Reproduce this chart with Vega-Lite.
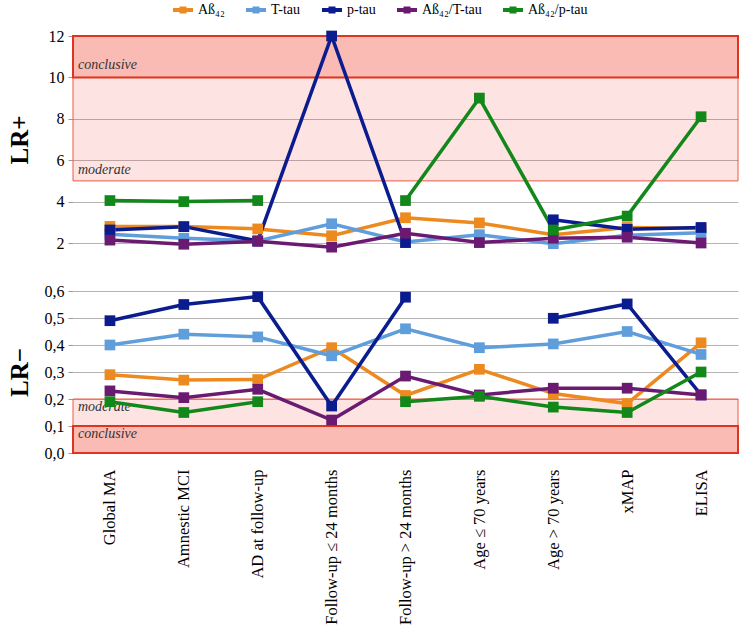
{
  "$schema": "https://vega.github.io/schema/vega-lite/v6.json",
  "padding": {"left": 7, "top": 0, "right": 5, "bottom": 0},
  "background": "white",
  "config": {
    "view": {"stroke": null},
    "font": "Liberation Serif",
    "axis": {"labelFont": "Liberation Serif", "titleFont": "Liberation Serif", "labelColor": "#000", "titleColor": "#000", "gridColor": "#b4b4b4", "domain": false, "tickColor": "#999"},
    "legend": {"labelFont": "Liberation Serif"}
  },
  "datasets": {
    "plus": [
      {"cat": "Global MA", "s": "Aß₄₂", "v": 2.8},
      {"cat": "Amnestic MCI", "s": "Aß₄₂", "v": 2.8},
      {"cat": "AD at follow-up", "s": "Aß₄₂", "v": 2.68},
      {"cat": "Follow-up ≤ 24 months", "s": "Aß₄₂", "v": 2.35},
      {"cat": "Follow-up > 24 months", "s": "Aß₄₂", "v": 3.22},
      {"cat": "Age ≤ 70 years", "s": "Aß₄₂", "v": 2.97},
      {"cat": "Age > 70 years", "s": "Aß₄₂", "v": 2.4},
      {"cat": "xMAP", "s": "Aß₄₂", "v": 2.75},
      {"cat": "ELISA", "s": "Aß₄₂", "v": 2.7},
      {"cat": "Global MA", "s": "T-tau", "v": 2.42},
      {"cat": "Amnestic MCI", "s": "T-tau", "v": 2.23},
      {"cat": "AD at follow-up", "s": "T-tau", "v": 2.1},
      {"cat": "Follow-up ≤ 24 months", "s": "T-tau", "v": 2.93},
      {"cat": "Follow-up > 24 months", "s": "T-tau", "v": 2.05},
      {"cat": "Age ≤ 70 years", "s": "T-tau", "v": 2.4},
      {"cat": "Age > 70 years", "s": "T-tau", "v": 1.97},
      {"cat": "xMAP", "s": "T-tau", "v": 2.38},
      {"cat": "ELISA", "s": "T-tau", "v": 2.5},
      {"cat": "Global MA", "s": "p-tau", "v": 2.63},
      {"cat": "Amnestic MCI", "s": "p-tau", "v": 2.79},
      {"cat": "AD at follow-up", "s": "p-tau", "v": 2.1},
      {"cat": "Follow-up ≤ 24 months", "s": "p-tau", "v": 12},
      {"cat": "Follow-up > 24 months", "s": "p-tau", "v": 2.02},
      {"cat": "Age ≤ 70 years", "s": "p-tau", "v": null},
      {"cat": "Age > 70 years", "s": "p-tau", "v": 3.12},
      {"cat": "xMAP", "s": "p-tau", "v": 2.66},
      {"cat": "ELISA", "s": "p-tau", "v": 2.75},
      {"cat": "Global MA", "s": "Aß₄₂/T-tau", "v": 2.14},
      {"cat": "Amnestic MCI", "s": "Aß₄₂/T-tau", "v": 1.94},
      {"cat": "AD at follow-up", "s": "Aß₄₂/T-tau", "v": 2.08},
      {"cat": "Follow-up ≤ 24 months", "s": "Aß₄₂/T-tau", "v": 1.8},
      {"cat": "Follow-up > 24 months", "s": "Aß₄₂/T-tau", "v": 2.47},
      {"cat": "Age ≤ 70 years", "s": "Aß₄₂/T-tau", "v": 2.02},
      {"cat": "Age > 70 years", "s": "Aß₄₂/T-tau", "v": 2.23},
      {"cat": "xMAP", "s": "Aß₄₂/T-tau", "v": 2.28},
      {"cat": "ELISA", "s": "Aß₄₂/T-tau", "v": 2.0},
      {"cat": "Global MA", "s": "Aß₄₂/p-tau", "v": 4.05},
      {"cat": "Amnestic MCI", "s": "Aß₄₂/p-tau", "v": 4.0},
      {"cat": "AD at follow-up", "s": "Aß₄₂/p-tau", "v": 4.05},
      {"cat": "Follow-up ≤ 24 months", "s": "Aß₄₂/p-tau", "v": null},
      {"cat": "Follow-up > 24 months", "s": "Aß₄₂/p-tau", "v": 4.05},
      {"cat": "Age ≤ 70 years", "s": "Aß₄₂/p-tau", "v": 9.0},
      {"cat": "Age > 70 years", "s": "Aß₄₂/p-tau", "v": 2.63},
      {"cat": "xMAP", "s": "Aß₄₂/p-tau", "v": 3.3},
      {"cat": "ELISA", "s": "Aß₄₂/p-tau", "v": 8.1}
    ],
    "minus": [
      {"cat": "Global MA", "s": "Aß₄₂", "v": 0.29},
      {"cat": "Amnestic MCI", "s": "Aß₄₂", "v": 0.27},
      {"cat": "AD at follow-up", "s": "Aß₄₂", "v": 0.272},
      {"cat": "Follow-up ≤ 24 months", "s": "Aß₄₂", "v": 0.39},
      {"cat": "Follow-up > 24 months", "s": "Aß₄₂", "v": 0.213},
      {"cat": "Age ≤ 70 years", "s": "Aß₄₂", "v": 0.31},
      {"cat": "Age > 70 years", "s": "Aß₄₂", "v": 0.22},
      {"cat": "xMAP", "s": "Aß₄₂", "v": 0.183},
      {"cat": "ELISA", "s": "Aß₄₂", "v": 0.408},
      {"cat": "Global MA", "s": "T-tau", "v": 0.4},
      {"cat": "Amnestic MCI", "s": "T-tau", "v": 0.44},
      {"cat": "AD at follow-up", "s": "T-tau", "v": 0.43},
      {"cat": "Follow-up ≤ 24 months", "s": "T-tau", "v": 0.36},
      {"cat": "Follow-up > 24 months", "s": "T-tau", "v": 0.46},
      {"cat": "Age ≤ 70 years", "s": "T-tau", "v": 0.39},
      {"cat": "Age > 70 years", "s": "T-tau", "v": 0.404},
      {"cat": "xMAP", "s": "T-tau", "v": 0.45},
      {"cat": "ELISA", "s": "T-tau", "v": 0.365},
      {"cat": "Global MA", "s": "p-tau", "v": 0.49},
      {"cat": "Amnestic MCI", "s": "p-tau", "v": 0.55},
      {"cat": "AD at follow-up", "s": "p-tau", "v": 0.579},
      {"cat": "Follow-up ≤ 24 months", "s": "p-tau", "v": 0.174},
      {"cat": "Follow-up > 24 months", "s": "p-tau", "v": 0.577},
      {"cat": "Age ≤ 70 years", "s": "p-tau", "v": null},
      {"cat": "Age > 70 years", "s": "p-tau", "v": 0.499},
      {"cat": "xMAP", "s": "p-tau", "v": 0.552},
      {"cat": "ELISA", "s": "p-tau", "v": 0.215},
      {"cat": "Global MA", "s": "Aß₄₂/T-tau", "v": 0.23},
      {"cat": "Amnestic MCI", "s": "Aß₄₂/T-tau", "v": 0.205},
      {"cat": "AD at follow-up", "s": "Aß₄₂/T-tau", "v": 0.236},
      {"cat": "Follow-up ≤ 24 months", "s": "Aß₄₂/T-tau", "v": 0.122},
      {"cat": "Follow-up > 24 months", "s": "Aß₄₂/T-tau", "v": 0.285},
      {"cat": "Age ≤ 70 years", "s": "Aß₄₂/T-tau", "v": 0.215},
      {"cat": "Age > 70 years", "s": "Aß₄₂/T-tau", "v": 0.24},
      {"cat": "xMAP", "s": "Aß₄₂/T-tau", "v": 0.24},
      {"cat": "ELISA", "s": "Aß₄₂/T-tau", "v": 0.215},
      {"cat": "Global MA", "s": "Aß₄₂/p-tau", "v": 0.19},
      {"cat": "Amnestic MCI", "s": "Aß₄₂/p-tau", "v": 0.15},
      {"cat": "AD at follow-up", "s": "Aß₄₂/p-tau", "v": 0.19},
      {"cat": "Follow-up ≤ 24 months", "s": "Aß₄₂/p-tau", "v": null},
      {"cat": "Follow-up > 24 months", "s": "Aß₄₂/p-tau", "v": 0.19},
      {"cat": "Age ≤ 70 years", "s": "Aß₄₂/p-tau", "v": 0.21},
      {"cat": "Age > 70 years", "s": "Aß₄₂/p-tau", "v": 0.17},
      {"cat": "xMAP", "s": "Aß₄₂/p-tau", "v": 0.15},
      {"cat": "ELISA", "s": "Aß₄₂/p-tau", "v": 0.3}
    ],
    "bandsPlus": [
      {"kind": "moderate", "lo": 5, "hi": 10, "ly": 5.55},
      {"kind": "conclusive", "lo": 10, "hi": 12, "ly": 10.6}
    ],
    "bandsMinus": [
      {"kind": "moderate", "lo": 0.1, "hi": 0.2, "ly": 0.171},
      {"kind": "conclusive", "lo": 0, "hi": 0.1, "ly": 0.069}
    ]
  },
  "spacing": 28,
  "vconcat": [
    {
      "width": 665,
      "height": 207,
      "layer": [
        {
          "data": {"name": "bandsPlus"},
          "transform": [{"filter": "datum.kind == 'moderate'"}],
          "mark": {"type": "rect", "fill": "#f03c28", "fillOpacity": 0.14, "stroke": "#ec5a44", "strokeWidth": 1},
          "encoding": {
            "y": {"field": "lo", "type": "quantitative", "scale": {"domain": [2, 12], "nice": false}, "axis": {"title": "LR+", "titleFontSize": 25, "titleFontWeight": "bold", "titlePadding": 16, "labelFontSize": 16, "values": [2, 4, 6, 8, 10, 12], "labelOverlap": false, "grid": true, "tickSize": 5, "labelPadding": 4}},
            "y2": {"field": "hi"}
          }
        },
        {
          "data": {"name": "bandsPlus"},
          "transform": [{"filter": "datum.kind == 'conclusive'"}],
          "mark": {"type": "rect", "fill": "#f03c28", "fillOpacity": 0.35, "stroke": "#e0341f", "strokeWidth": 2},
          "encoding": {
            "y": {"field": "lo", "type": "quantitative"},
            "y2": {"field": "hi"}
          }
        },
        {
          "data": {"name": "bandsPlus"},
          "mark": {"type": "text", "align": "left", "baseline": "middle", "fontStyle": "italic", "fontSize": 14, "color": "#333", "dx": -32},
          "encoding": {
            "x": {"datum": "Global MA", "type": "nominal", "axis": null},
            "y": {"field": "ly", "type": "quantitative"},
            "text": {"field": "kind"}
          }
        },
        {
          "data": {"name": "plus"},
          "mark": {"type": "line", "strokeWidth": 3.5, "invalid": "break-paths-show-domains"},
          "encoding": {
            "x": {"field": "cat", "type": "nominal", "sort": null, "scale": {"type": "point", "padding": 0.5, "domain": ["Global MA", "Amnestic MCI", "AD at follow-up", "Follow-up ≤ 24 months", "Follow-up > 24 months", "Age ≤ 70 years", "Age > 70 years", "xMAP", "ELISA"]}, "axis": null},
            "y": {"field": "v", "type": "quantitative"},
            "color": {"field": "s", "type": "nominal", "scale": {"domain": ["Aß₄₂", "T-tau", "p-tau", "Aß₄₂/T-tau", "Aß₄₂/p-tau"], "range": ["#ED8A1F", "#5F9EDB", "#0B1C8E", "#6B1A72", "#12871A"]},
              "legend": {"title": null, "orient": "none", "legendX": 100, "legendY": -36, "direction": "horizontal", "labelFontSize": 14, "labelOffset": 5, "columnPadding": 21, "symbolSize": 400, "symbolType": "M-1,-0.2H1V0.2H-1Z M-0.35,-0.35H0.35V0.35H-0.35Z", "symbolStrokeWidth": 0,
                "encode": {"symbols": {"update": {"fill": {"scale": "color", "field": "value"}, "stroke": {"value": "transparent"}}}}}
            }
          }
        },
        {
          "data": {"name": "plus"},
          "transform": [{"filter": "isValid(datum.v)"}],
          "mark": {"type": "square", "size": 115, "opacity": 1, "filled": true},
          "encoding": {
            "x": {"field": "cat", "type": "nominal", "sort": null, "axis": null},
            "y": {"field": "v", "type": "quantitative"},
            "color": {"field": "s", "type": "nominal"}
          }
        }
      ]
    },
    {
      "width": 665,
      "height": 162,
      "layer": [
        {
          "data": {"name": "bandsMinus"},
          "transform": [{"filter": "datum.kind == 'moderate'"}],
          "mark": {"type": "rect", "fill": "#f03c28", "fillOpacity": 0.14, "stroke": "#ec5a44", "strokeWidth": 1},
          "encoding": {
            "y": {"field": "lo", "type": "quantitative", "scale": {"domain": [0, 0.6], "nice": false}, "axis": {"title": "LR−", "titleFontSize": 25, "titleFontWeight": "bold", "titlePadding": 12, "labelFontSize": 16, "values": [0, 0.1, 0.2, 0.3, 0.4, 0.5, 0.6], "labelOverlap": false, "labelExpr": "replace(format(datum.value, '.1f'), '.', ',')", "grid": true, "tickSize": 5, "labelPadding": 4}},
            "y2": {"field": "hi"}
          }
        },
        {
          "data": {"name": "bandsMinus"},
          "transform": [{"filter": "datum.kind == 'conclusive'"}],
          "mark": {"type": "rect", "fill": "#f03c28", "fillOpacity": 0.35, "stroke": "#e0341f", "strokeWidth": 2},
          "encoding": {
            "y": {"field": "lo", "type": "quantitative", "axis": {"title": "LR−", "titleFontSize": 25, "titleFontWeight": "bold", "titlePadding": 12, "labelFontSize": 16, "values": [0, 0.1, 0.2, 0.3, 0.4, 0.5, 0.6], "labelOverlap": false, "labelExpr": "replace(format(datum.value, '.1f'), '.', ',')", "grid": true, "tickSize": 5, "labelPadding": 4}},
            "y2": {"field": "hi"}
          }
        },
        {
          "data": {"name": "bandsMinus"},
          "mark": {"type": "text", "align": "left", "baseline": "middle", "fontStyle": "italic", "fontSize": 14, "color": "#333", "dx": -32},
          "encoding": {
            "x": {"datum": "Global MA", "type": "nominal"},
            "y": {"field": "ly", "type": "quantitative", "axis": {"title": "LR−", "titleFontSize": 25, "titleFontWeight": "bold", "titlePadding": 12, "labelFontSize": 16, "values": [0, 0.1, 0.2, 0.3, 0.4, 0.5, 0.6], "labelOverlap": false, "labelExpr": "replace(format(datum.value, '.1f'), '.', ',')", "grid": true, "tickSize": 5, "labelPadding": 4}},
            "text": {"field": "kind"}
          }
        },
        {
          "data": {"name": "minus"},
          "mark": {"type": "line", "strokeWidth": 3.5, "invalid": "break-paths-show-domains"},
          "encoding": {
            "x": {"field": "cat", "type": "nominal", "sort": null, "scale": {"type": "point", "padding": 0.5, "domain": ["Global MA", "Amnestic MCI", "AD at follow-up", "Follow-up ≤ 24 months", "Follow-up > 24 months", "Age ≤ 70 years", "Age > 70 years", "xMAP", "ELISA"]}, "axis": {"title": null, "labelAngle": -90, "labelFontSize": 16.5, "ticks": false, "labelPadding": 16, "grid": false}},
            "y": {"field": "v", "type": "quantitative", "axis": {"title": "LR−", "titleFontSize": 25, "titleFontWeight": "bold", "titlePadding": 12, "labelFontSize": 16, "values": [0, 0.1, 0.2, 0.3, 0.4, 0.5, 0.6], "labelOverlap": false, "labelExpr": "replace(format(datum.value, '.1f'), '.', ',')", "grid": true, "tickSize": 5, "labelPadding": 4}},
            "color": {"field": "s", "type": "nominal"}
          }
        },
        {
          "data": {"name": "minus"},
          "transform": [{"filter": "isValid(datum.v)"}],
          "mark": {"type": "square", "size": 115, "opacity": 1, "filled": true},
          "encoding": {
            "x": {"field": "cat", "type": "nominal", "sort": null},
            "y": {"field": "v", "type": "quantitative", "axis": {"title": "LR−", "titleFontSize": 25, "titleFontWeight": "bold", "titlePadding": 12, "labelFontSize": 16, "values": [0, 0.1, 0.2, 0.3, 0.4, 0.5, 0.6], "labelOverlap": false, "labelExpr": "replace(format(datum.value, '.1f'), '.', ',')", "grid": true, "tickSize": 5, "labelPadding": 4}},
            "color": {"field": "s", "type": "nominal"}
          }
        }
      ]
    }
  ]
}
